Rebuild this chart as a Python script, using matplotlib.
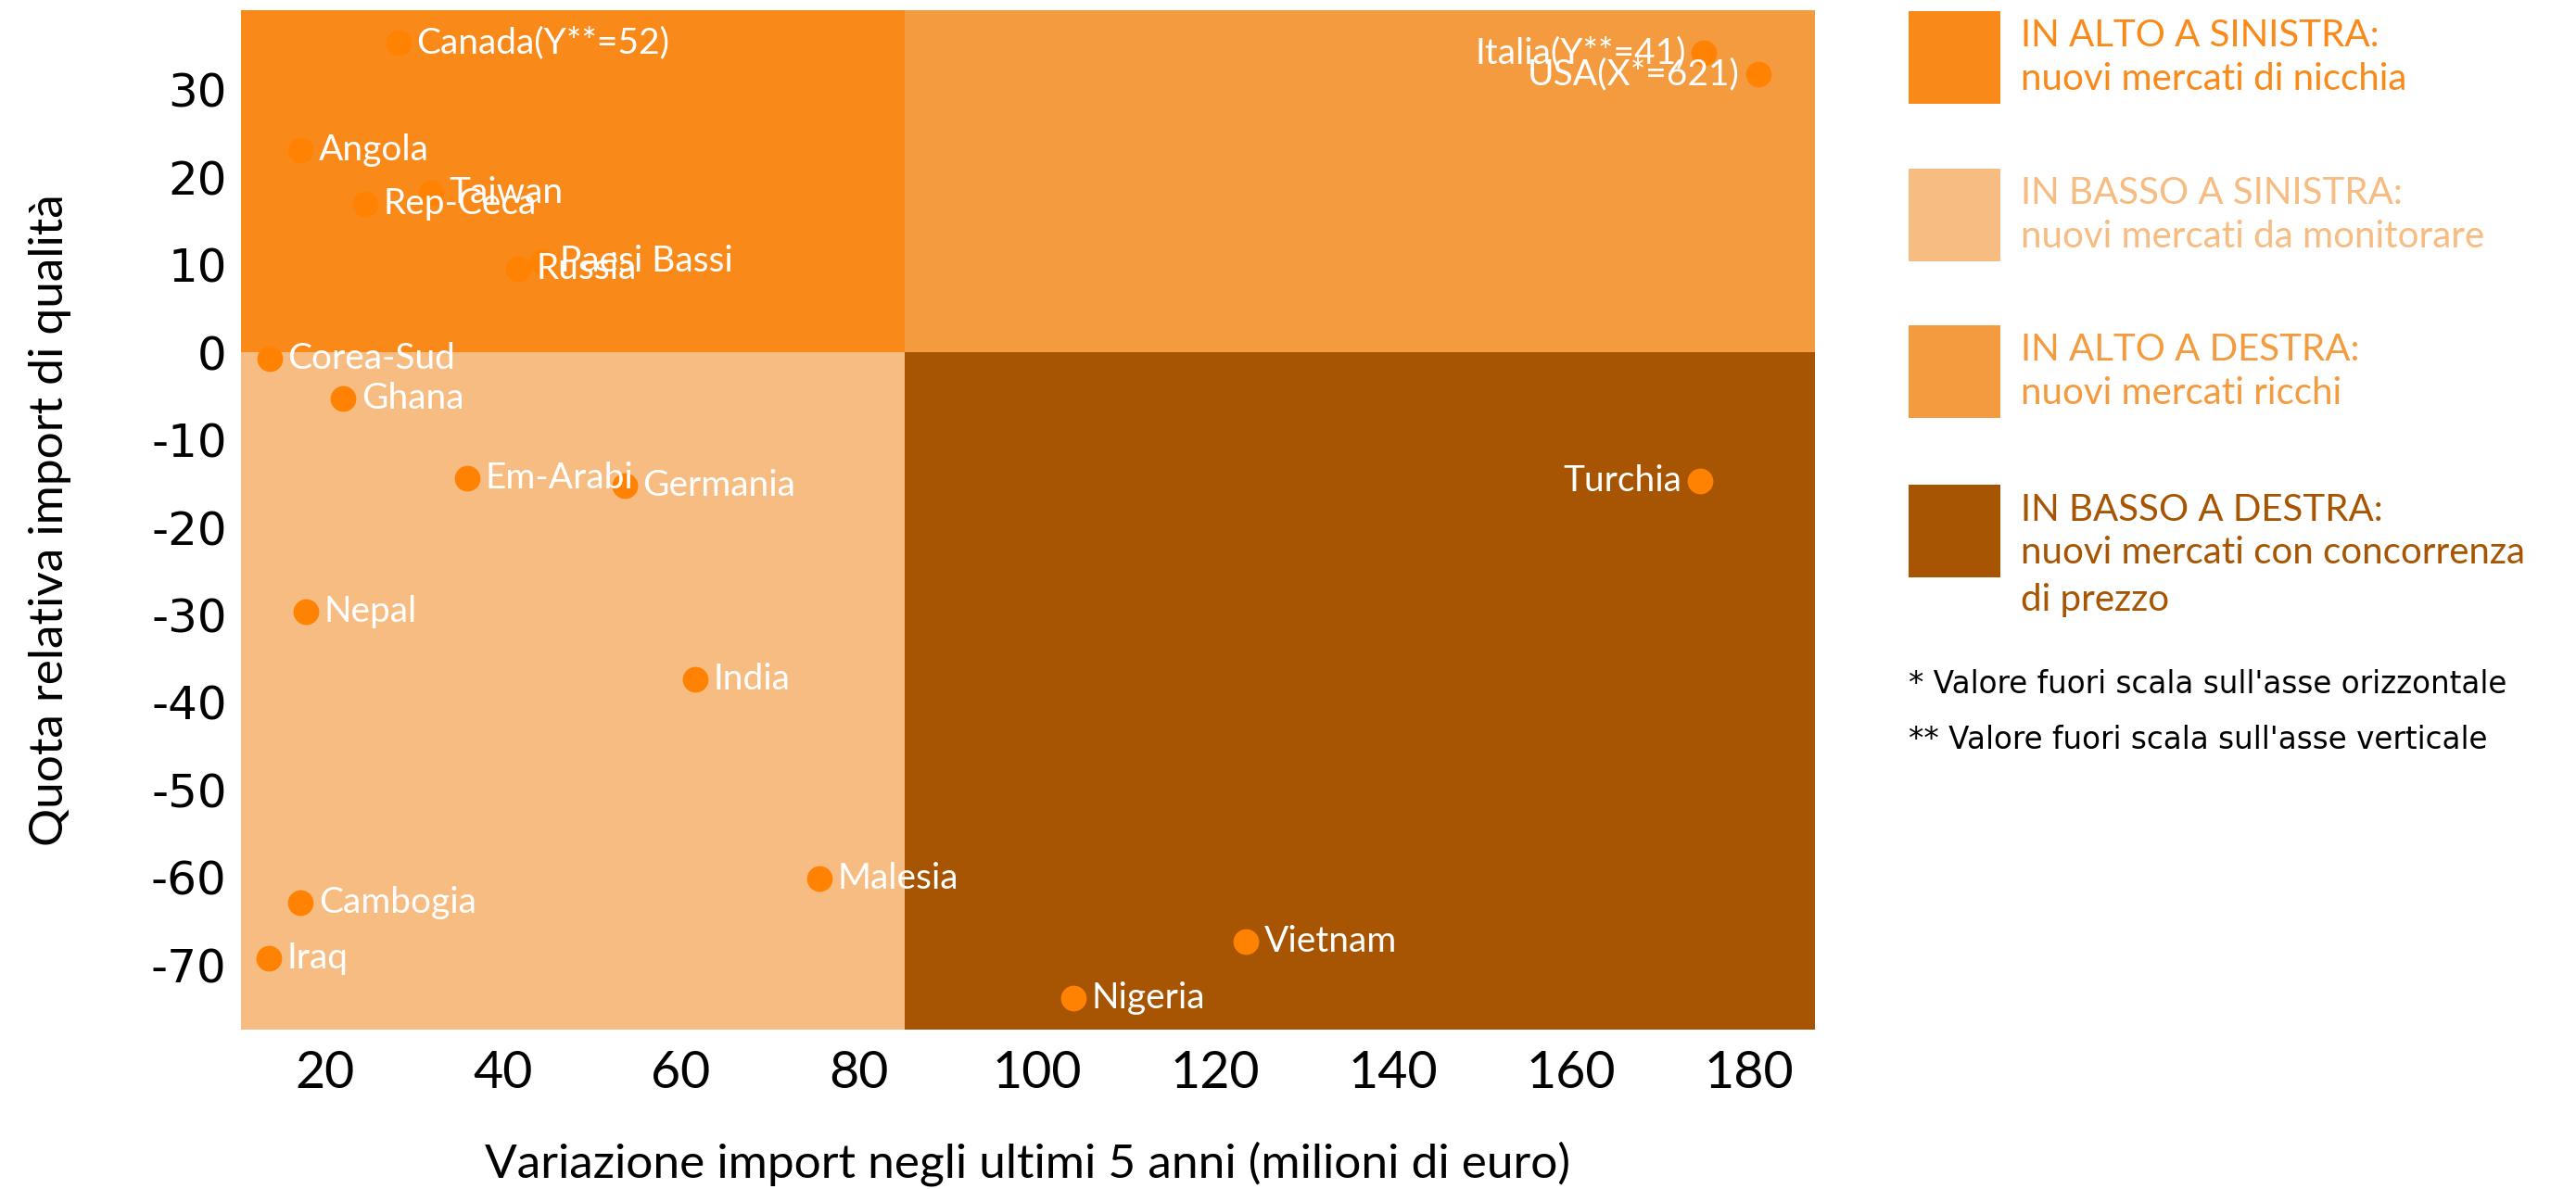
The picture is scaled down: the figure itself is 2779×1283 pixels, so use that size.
import matplotlib
matplotlib.use("Agg")
import matplotlib.pyplot as plt
from matplotlib.patches import Rectangle

plt.rcParams['axes.unicode_minus'] = False

# ---- data ----
countries = ["Canada(Y**=52)", "Angola", "Rep-Ceca", "Taiwan", "Paesi Bassi", "Russia",
             "Corea-Sud", "Ghana", "Em-Arabi", "Germania", "Nepal", "India",
             "Cambogia", "Iraq", "Malesia", "Nigeria", "Vietnam", "Turchia",
             "Italia(Y**=41)", "USA(X*=621)"]
x_vals = [28.3, 17.3, 24.6, 31.9, 44.4, 41.7,
          13.8, 22.1, 36.0, 53.7, 17.9, 61.6,
          17.3, 13.7, 75.6, 104.1, 123.5, 174.5,
          174.9, 181.0]
y_vals = [35.4, 23.1, 17.0, 18.2, 10.4, 9.6,
          -0.7, -5.3, -14.4, -15.2, -29.6, -37.4,
          -62.9, -69.2, -60.1, -73.8, -67.3, -14.7,
          34.2, 31.8]
label_left = ["Turchia", "Italia(Y**=41)", "USA(X*=621)"]

x_ticks = [20, 40, 60, 80, 100, 120, 140, 160, 180]
y_ticks = [30, 20, 10, 0, -10, -20, -30, -40, -50, -60, -70]
x_split = 85.2
y_split = 0
x_lim = (10.6, 187.4)
y_lim = (-77.4, 39.1)

x_label = "Variazione import negli ultimi 5 anni (milioni di euro)"
y_label = "Quota relativa import di qualità"

legend_titles = ["IN ALTO A SINISTRA:", "IN BASSO A SINISTRA:", "IN ALTO A DESTRA:", "IN BASSO A DESTRA:"]
legend_descs = ["nuovi mercati di nicchia", "nuovi mercati da monitorare", "nuovi mercati ricchi",
                "nuovi mercati con concorrenza\ndi prezzo"]
footnotes = ["* Valore fuori scala sull'asse orizzontale", "** Valore fuori scala sull'asse verticale"]

# ---- style ----
C_TL = "#F98A1A"
C_BL = "#F7BC81"
C_TR = "#F49B3F"
C_BR = "#A75502"
C_DOT = "#FF8203"
FONT = "Lato"

W, H = 2779, 1283
fig = plt.figure(figsize=(W / 100, H / 100), dpi=100)
ax = fig.add_axes([260 / W, 1 - 1111 / H, (1958 - 260) / W, (1111 - 11) / H])
ax.set_xlim(*x_lim)
ax.set_ylim(*y_lim)

# quadrants
ax.add_patch(Rectangle((x_lim[0], y_split), x_split - x_lim[0], y_lim[1] - y_split, color=C_TL, lw=0, zorder=0))
ax.add_patch(Rectangle((x_lim[0], y_lim[0]), x_split - x_lim[0], y_split - y_lim[0], color=C_BL, lw=0, zorder=0))
ax.add_patch(Rectangle((x_split, y_split), x_lim[1] - x_split, y_lim[1] - y_split, color=C_TR, lw=0, zorder=0))
ax.add_patch(Rectangle((x_split, y_lim[0]), x_lim[1] - x_split, y_split - y_lim[0], color=C_BR, lw=0, zorder=0))

ax.scatter(x_vals, y_vals, s=400, color=C_DOT, linewidths=0, zorder=2)
for name, xv, yv in zip(countries, x_vals, y_vals):
    if name in label_left:
        ax.annotate(name, (xv, yv), xytext=(-14, 0), textcoords="offset points",
                    ha="right", va="center", color="white", fontsize=28, family=FONT, zorder=3)
    else:
        ax.annotate(name, (xv, yv), xytext=(14, 0), textcoords="offset points",
                    ha="left", va="center", color="white", fontsize=28, family=FONT, zorder=3)

for s in ax.spines.values():
    s.set_visible(False)
ax.set_xticks(x_ticks)
ax.set_yticks(y_ticks)
ax.tick_params(length=0)
ax.tick_params(axis="y", pad=11)
ax.tick_params(axis="x", pad=16)
for t in ax.get_yticklabels():
    t.set_fontfamily("DejaVu Sans")
    t.set_fontsize(36)
for t in ax.get_xticklabels():
    t.set_fontfamily(FONT)
    t.set_fontsize(40)
ax.set_xlabel(x_label, fontsize=37, family=FONT, labelpad=34)
ax.set_ylabel(y_label, fontsize=37, family=FONT, labelpad=62)

# legend
colors = [C_TL, C_BL, C_TR, C_BR]
box_tops = [12, 182, 351, 523]
for i, (tt, dd, cc) in enumerate(zip(legend_titles, legend_descs, colors)):
    top = box_tops[i]
    fig.patches.append(Rectangle((2059 / W, 1 - (top + 100) / H), 99 / W, 100 / H,
                                 transform=fig.transFigure, color=cc, lw=0))
    fig.text(2180 / W, 1 - (top + 27) / H, tt, color=cc, fontsize=29, family=FONT, va="center", ha="left")
    fig.text(2180 / W, 1 - (top + 55) / H, dd, color=cc, fontsize=29, family=FONT, va="top", ha="left",
             linespacing=1.45)
fig.text(2059 / W, 1 - 739 / H, footnotes[0], color="black", fontsize=23.5, family="DejaVu Sans",
         va="center", ha="left")
fig.text(2059 / W, 1 - 799 / H, footnotes[1], color="black", fontsize=23.5, family="DejaVu Sans",
         va="center", ha="left")

fig.savefig("out.png", dpi=100)
